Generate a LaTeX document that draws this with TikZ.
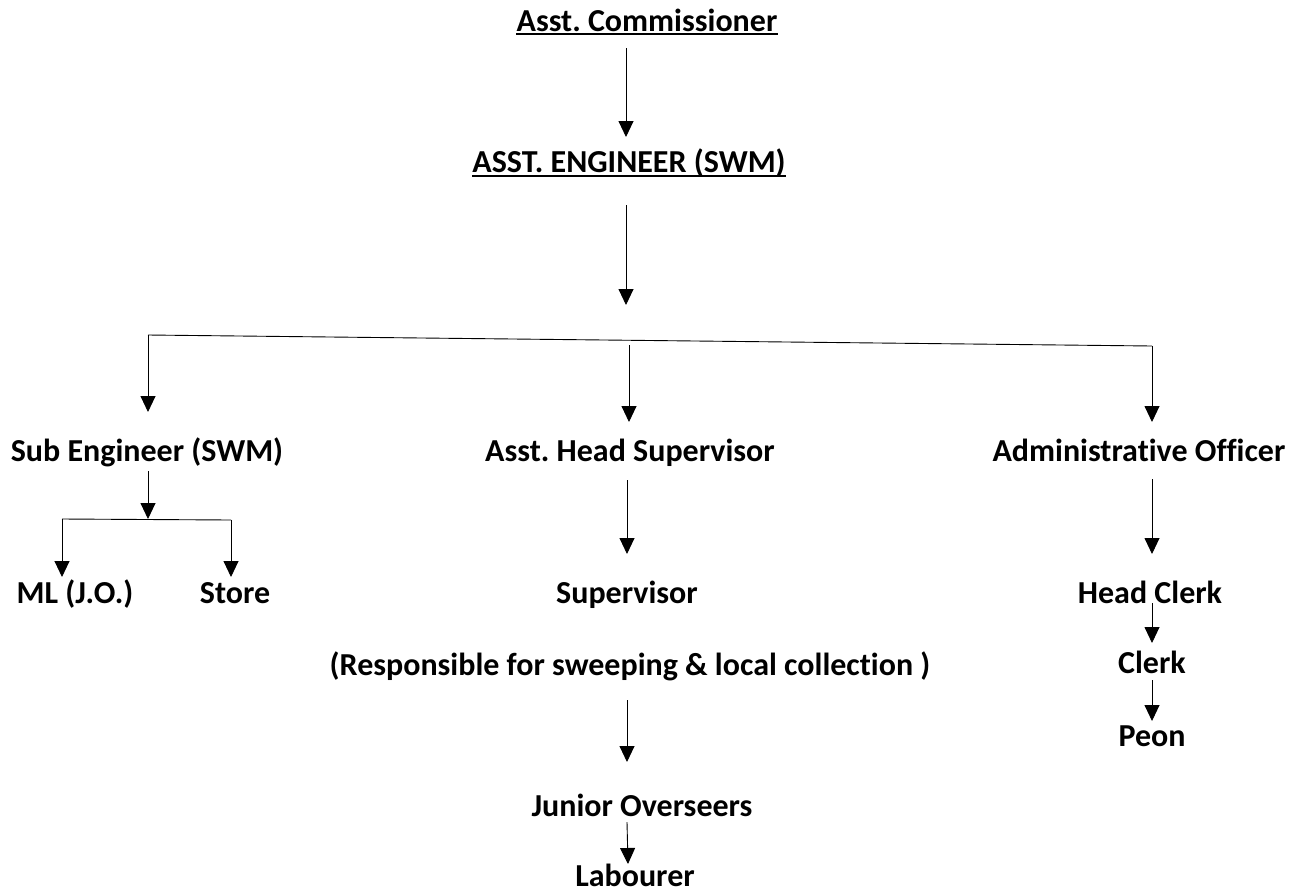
\documentclass[tikz,border=0pt]{standalone}
\usepackage{fontspec}
\setmainfont{Carlito}[Ligatures=NoCommon]
\frenchspacing
\usetikzlibrary{arrows.meta}
\begin{document}
\begin{tikzpicture}[x=1pt,y=-1pt,
  lbl/.style={inner sep=0pt,font=\fontsize{32}{36}\selectfont\bfseries\frenchspacing,anchor=base},
  arr/.style={line width=0.9pt,-{Triangle[length=16pt,width=15pt]}},
  ln/.style={line width=0.9pt},
  ul/.style={line width=1.6pt}]
\useasboundingbox[fill=white] (0,0) rectangle (1304,892);
% nodes (anchor = baseline)
\node[lbl] (ac) at (647,31) {Asst. Commissioner};
\node[lbl] (ae) at (629,172) {ASST. ENGINEER (SWM)};
\draw[ul] ([yshift=-3pt]ac.base west) -- ([yshift=-3pt]ac.base east);
\draw[ul] ([yshift=-4pt]ae.base west) -- ([yshift=-4pt]ae.base east);
\node[lbl] (se) at (147,461) {Sub Engineer (SWM)};
\node[lbl] (ahs) at (630,461) {Asst. Head Supervisor};
\node[lbl] (ao) at (1139,461) {Administrative Officer};
\node[lbl] (ml) at (75,603) {ML (J.O.)};
\node[lbl] (st) at (235,603) {Store};
\node[lbl] (sup) at (627,603) {Supervisor};
\node[lbl] (resp) at (630,675) {(Responsible for sweeping \& local collection )};
\node[lbl] (jo) at (642,816) {Junior Overseers};
\node[lbl] (lab) at (635,886) {Labourer};
\node[lbl] (hc) at (1150,603) {Head Clerk};
\node[lbl] (cl) at (1152,673) {Clerk};
\node[lbl] (pe) at (1152,746) {Peon};
% connector end points
\coordinate (acS) at (626,48);  \coordinate (aeN) at (626,137);
\coordinate (aeS) at (626,205); \coordinate (barN) at (626,305);
\coordinate (barL) at (148,335); \coordinate (barR) at (1152,346);
\coordinate (barM) at (629,345);
\coordinate (seN) at (148,412); \coordinate (ahsN) at (629,422); \coordinate (aoN) at (1152,422);
\coordinate (seS) at (148,471); \coordinate (sbar) at (148,519);
\coordinate (sbarL) at (62,519); \coordinate (sbarR) at (231,520);
\coordinate (mlN) at (62,577); \coordinate (stN) at (231,577);
\coordinate (ahsS) at (627,480); \coordinate (supN) at (627,554);
\coordinate (respS) at (627,700); \coordinate (joN) at (627,762);
\coordinate (joS) at (627,822); \coordinate (labN) at (628,864);
\coordinate (aoS) at (1152,479); \coordinate (hcN) at (1152,554);
\coordinate (hcS) at (1152,603); \coordinate (clN) at (1152,643);
\coordinate (clS) at (1152,680); \coordinate (peN) at (1152,721);
% connectors
\draw[arr] (acS) -- (aeN);
\draw[arr] (aeS) -- (barN);
\draw[ln] (barL) -- (barR);
\draw[arr] (barL) -- (seN);
\draw[arr] (barM) -- (ahsN);
\draw[arr] (barR) -- (aoN);
\draw[arr] (seS) -- (sbar);
\draw[ln] (sbarL) -- (sbarR);
\draw[arr] (sbarL) -- (mlN);
\draw[arr] (sbarR) -- (stN);
\draw[arr] (ahsS) -- (supN);
\draw[arr] (respS) -- (joN);
\draw[arr] (joS) -- (labN);
\draw[arr] (aoS) -- (hcN);
\draw[arr] (hcS) -- (clN);
\draw[arr] (clS) -- (peN);
\end{tikzpicture}
\end{document}
